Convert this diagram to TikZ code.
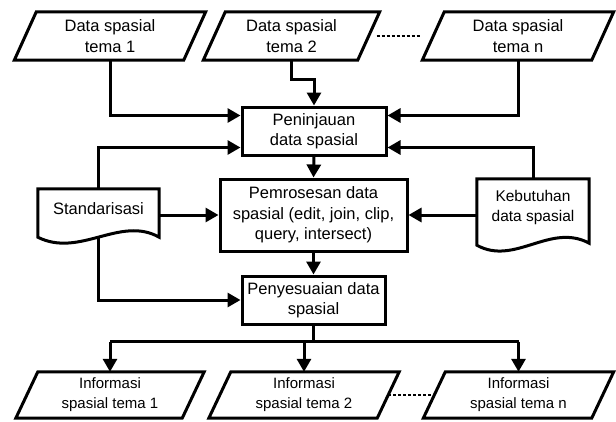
\documentclass[tikz,border=0pt]{standalone}
\usepackage{fontspec}
\setmainfont{Liberation Sans}
\usetikzlibrary{arrows.meta,calc}
\begin{document}
\begin{tikzpicture}[x=1pt,y=-1pt,
  lw/.style={line width=3pt},
  bigfont/.style={font=\fontsize{16.5}{20.5}\selectfont},
  box/.style={draw, lw, rectangle, align=center, inner sep=0pt, bigfont},
  para/.style={rectangle, align=center, inner sep=0pt, minimum height=48pt},
  docu/.style={rectangle, align=center, inner sep=0pt},
  arr/.style={lw, -{Triangle[length=13pt,width=14pt]}},
  dots/.style={line width=1.8pt, dash pattern=on 3pt off 2pt}]
\useasboundingbox (0,0) rectangle (616,421);

% input parallelograms
\node[para, bigfont, minimum width=169pt] (d1) at (110,36) {Data spasial\\tema 1};
\node[para, bigfont, minimum width=154pt] (d2) at (291.5,36) {Data spasial\\tema 2};
\node[para, bigfont, minimum width=169pt] (d3) at (518,36) {Data spasial\\tema n};

% process boxes
\node[box, minimum width=144pt, minimum height=48pt] (pen) at (314,131) {Peninjauan\\data spasial};
\node[box, minimum width=187pt, minimum height=72pt] (pem) at (313.5,215) {Pemrosesan data\\spasial (edit, join, clip,\\query, intersect)};
\node[box, minimum width=143pt, minimum height=48pt] (pny) at (313.5,300) {Penyesuaian data\\spasial};

% documents
\node[docu, bigfont, minimum width=121pt, minimum height=40pt] (std) at (98.5,209) {Standarisasi};
\node[docu, font=\fontsize{15.5}{20}\selectfont, minimum width=112pt, minimum height=56pt] (keb) at (533,207) {Kebutuhan\\data spasial};

% output parallelograms
\node[para, font=\fontsize{15}{20}\selectfont, minimum width=166pt, minimum height=46pt] (i1) at (110,395) {Informasi\\spasial tema 1};
\node[para, font=\fontsize{15}{20}\selectfont, minimum width=168pt, minimum height=46pt] (i2) at (304,395) {Informasi\\spasial tema 2};
\node[para, font=\fontsize{15}{20}\selectfont, minimum width=168pt, minimum height=46pt] (i3) at (518.5,395) {Informasi\\spasial tema n};

% parallelogram outlines
\foreach \n in {d1,d2,d3,i1,i2,i3}
  \draw[lw] ($(\n.north west)+(11,0)$) -- ($(\n.north east)+(11,0)$)
        -- ($(\n.south east)+(-11,0)$) -- ($(\n.south west)+(-11,0)$) -- cycle;

% document outlines
\draw[lw] ($(std.south east)+(0,8)$)
  .. controls ($(std.south east)+(-39,-14)$) and ($(std.south west)+(42,29)$) ..
  ($(std.south west)+(0,8)$) -- (std.north west) -- (std.north east) -- cycle;
\draw[lw] ($(keb.south east)+(0,8)$)
  .. controls ($(keb.south east)+(-39,-13)$) and ($(keb.south west)+(38,31)$) ..
  ($(keb.south west)+(0,10)$) -- (keb.north west) -- (keb.north east) -- cycle;
\coordinate (stdB) at ($(std.south)+(0,8)$);

% dotted links
\draw[dots, shorten <=8pt, shorten >=13pt] (d2.east) -- (d3.west);
\draw[dots] (i2.east) -- (i3.west);

% connectors to Peninjauan
\draw[arr] (d1.south) |- ($(pen.north west)+(0,10)$);
\draw[arr] (d2.south) -- ++(0,19) -| (pen.north);
\draw[arr] (d3.south) |- ($(pen.north east)+(0,10)$);
\draw[arr] (std.north) |- ($(pen.south west)+(0,-9)$);
\draw[arr] (keb.north) |- ($(pen.south east)+(0,-9)$);

% main flow
\draw[arr] (pen.south) -- (pem.north);
\draw[arr] (std.east |- pem.west) -- (pem.west);
\draw[arr] (keb.west |- pem.east) -- (pem.east);
\draw[arr] (pem.south) -- (pny.north);
\draw[arr] (stdB) |- (pny.west);

% outputs
\coordinate (br) at ($(pny.south)+(0,16)$);
\draw[lw] (pny.south) -- (br);
\draw[lw] (i1.north |- br) -- (i3.north |- br);
\draw[arr] (i1.north |- br) -- (i1.north);
\draw[arr] (i2.north |- br) -- (i2.north);
\draw[arr] (i3.north |- br) -- (i3.north);
\end{tikzpicture}
\end{document}
